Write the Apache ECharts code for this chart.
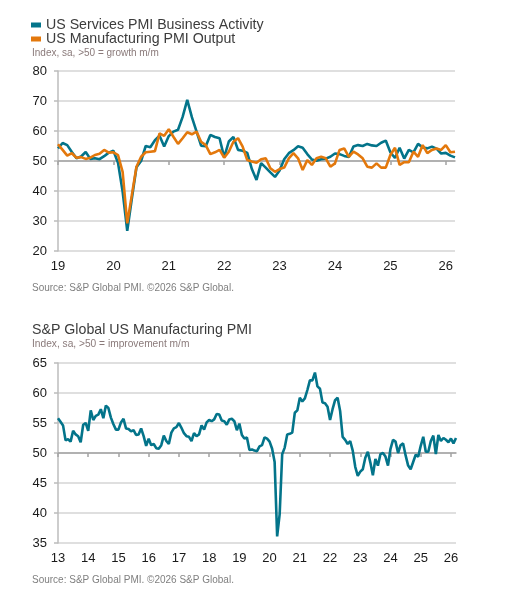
<!DOCTYPE html>
<html>
<head>
<meta charset="utf-8">
<script src="https://cdn.jsdelivr.net/npm/echarts@6/dist/echarts.min.js"></script>
<style>
html,body{margin:0;padding:0;background:#fff;}
#c{width:516px;height:600px;}
</style>
</head>
<body>
<div id="c"></div>
<script>
// ---------- DATA ----------
const topStartYear = 2019;   // Jan 2019 .. Mar 2026
const bottomStartYear = 2013; // Jan 2013 .. Mar 2026

const topYearLabels = ['19','20','21','22','23','24','25','26'];
const bottomYearLabels = ['13','14','15','16','17','18','19','20','21','22','23','24','25','26'];

const seriesNames = ['US Services PMI Business Activity', 'US Manufacturing PMI Output'];

const servicesActivity = [
  54.2, 56.0, 55.3, 53.0, 50.9, 51.5, 53.0, 50.7, 50.9, 50.6, 51.6, 52.8,
  53.4, 49.4, 39.8, 26.7, 37.5, 47.9, 50.0, 55.0, 54.6, 56.9, 58.4, 54.8,
  58.3, 59.8, 60.4, 64.7, 70.4, 64.6, 59.9, 55.1, 54.9, 58.7, 58.0, 57.6,
  51.2, 56.5, 58.0, 53.7, 53.4, 52.7, 47.3, 43.7, 49.3, 47.8, 46.2, 44.7,
  46.8, 50.6, 52.6, 53.6, 54.9, 54.4, 52.3, 50.5, 50.1, 50.6, 50.8, 51.4,
  52.5, 52.3, 51.7, 51.3, 54.8, 55.3, 55.0, 55.7, 55.2, 55.0, 56.1, 56.8,
  52.9, 51.0, 54.4, 50.8, 53.7, 52.9, 55.7, 54.5, 54.2, 54.8, 54.1, 52.5,
  52.7, 51.8, 51.2
];

const manufacturingOutput = [
  55.6, 53.7, 51.8, 52.6, 51.1, 51.3, 50.7, 51.1, 52.0, 52.4, 53.7, 52.8,
  52.9, 52.0, 46.4, 29.2, 38.7, 48.1, 51.4, 52.9, 53.1, 53.3, 59.2, 58.4,
  60.6, 58.1, 55.7, 57.6, 59.6, 58.9, 59.8, 56.4, 55.3, 52.3, 52.9, 53.7,
  51.1, 53.1, 56.4, 57.6, 54.8, 50.3, 49.8, 49.4, 50.6, 50.9, 47.6, 46.4,
  47.3, 47.8, 50.9, 52.6, 50.9, 47.0, 50.3, 48.7, 50.9, 51.4, 50.9, 48.1,
  49.2, 53.7, 54.2, 51.4, 53.1, 52.2, 50.9, 48.1, 47.8, 49.2, 47.8, 47.8,
  52.0, 54.4, 48.7, 49.6, 49.6, 53.1, 51.4, 55.3, 52.6, 53.7, 54.2, 53.7,
  55.3, 52.9, 53.1
];

const manufacturingPMI = [
  55.8, 55.2, 54.6, 52.1, 52.3, 51.9, 53.7, 53.1, 52.8, 51.8, 54.7, 55.0,
  53.7, 57.1, 55.5, 56.2, 56.4, 57.3, 55.8, 57.9, 57.5, 55.9, 54.8, 53.9,
  53.9, 55.1, 55.7, 54.1, 54.0, 53.6, 53.8, 53.0, 53.1, 54.1, 52.8, 51.2,
  52.4, 51.3, 51.5, 50.8, 50.7, 51.3, 52.9, 52.0, 51.5, 53.4, 54.1, 54.3,
  55.0, 54.2, 53.3, 52.8, 52.7, 52.0, 53.3, 52.8, 53.1, 54.6, 53.9, 55.1,
  55.5, 55.3, 55.6, 56.5, 56.4, 55.4, 55.3, 54.7, 55.6, 55.7, 55.3, 53.8,
  54.9, 53.0, 52.4, 52.6, 50.5, 50.6, 50.4, 50.3, 51.1, 51.3, 52.6, 52.4,
  51.9, 50.7, 48.5, 36.1, 39.8, 49.8, 50.9, 53.1, 53.2, 53.4, 56.7, 57.1,
  59.2, 58.6, 59.1, 60.5, 62.1, 62.1, 63.4, 61.1, 60.7, 58.4, 58.3, 57.7,
  55.5, 57.3, 58.8, 59.2, 57.0, 52.7, 52.2, 51.5, 52.0, 50.4, 47.7, 46.2,
  46.9, 47.3, 49.2, 50.2, 48.4, 46.3, 49.0, 47.9, 49.8, 50.0, 49.4, 47.9,
  50.7, 52.2, 51.9, 50.0, 51.3, 51.6, 49.6, 47.9, 47.3, 48.5, 49.7, 49.4,
  51.2, 52.7, 50.2, 50.2, 52.0, 52.9, 49.8, 53.0, 52.0, 52.5, 52.2, 51.8,
  52.4, 51.6, 52.5
];

const topTitleTexts = {
  sub: 'Index, sa, >50 = growth m/m',
  source: 'Source: S&P Global PMI. \u00A92026 S&P Global.'
};
const bottomTitleTexts = {
  title: 'S&P Global US Manufacturing PMI',
  sub: 'Index, sa, >50 = improvement m/m',
  source: 'Source: S&P Global PMI. \u00A92026 S&P Global.'
};

// ---------- helpers ----------
function monthCats(startYear, n) {
  const out = [];
  for (let i = 0; i < n; i++) {
    const y = startYear + Math.floor(i / 12);
    const m = (i % 12) + 1;
    out.push(y + '-' + (m < 10 ? '0' + m : m));
  }
  return out;
}
const topCats = monthCats(topStartYear, servicesActivity.length);
const bottomCats = monthCats(bottomStartYear, manufacturingPMI.length);

const FONT = '"Liberation Sans", Arial, sans-serif';
const TEAL = '#03748a';
const ORANGE = '#e3780c';
const GRID_COL = '#d4d4d4';
const AXIS50_COL = '#a3a3a3';

const yearInterval = function (idx) { return idx % 12 === 0; };

function labelAxis(gridIndex, cats, labels) {
  return {
    type: 'category', gridIndex: gridIndex, data: cats, boundaryGap: false, position: 'bottom',
    axisLine: { show: false, onZero: false },
    axisTick: { show: false },
    splitLine: { show: false },
    axisLabel: {
      interval: yearInterval,
      formatter: function (v, idx) { return idx % 12 === 0 ? labels[idx / 12] : ''; },
      color: '#1a1a1a', fontSize: 13, fontFamily: FONT, margin: 9
    }
  };
}
function lineAxis(gridIndex, cats) {
  return {
    type: 'category', gridIndex: gridIndex, data: cats, boundaryGap: false, position: 'bottom',
    axisLine: { show: true, onZero: true, lineStyle: { color: AXIS50_COL, width: 1.5 } },
    axisTick: { show: true, interval: yearInterval, length: 4, lineStyle: { color: AXIS50_COL, width: 1.5 } },
    axisLabel: { show: false },
    splitLine: { show: false }
  };
}
function valueAxis(gridIndex, min, max, step) {
  return {
    type: 'value', gridIndex: gridIndex, min: min, max: max, interval: step,
    axisLine: { show: true, lineStyle: { color: '#bcbcbc', width: 1.5 } },
    axisTick: { show: true, length: 4, lineStyle: { color: '#bcbcbc', width: 1.5 } },
    splitLine: { show: true, lineStyle: { color: GRID_COL, width: 1.5 } },
    axisLabel: { color: '#1a1a1a', fontSize: 13, fontFamily: FONT, margin: 11 }
  };
}
function helperAxis(gridIndex) {
  return { type: 'value', gridIndex: gridIndex, min: -1, max: 1, show: false, splitLine: { show: false } };
}
function txt(text, left, top, size, color) {
  return {
    text: text, left: left, top: top, padding: 0,
    textStyle: { fontSize: size, color: color, fontWeight: 'normal', fontFamily: FONT }
  };
}

const chart = echarts.init(document.getElementById('c'), null, { renderer: 'canvas' });

chart.setOption({
  backgroundColor: '#fff',
  animation: false,
  title: [
    txt(topTitleTexts.sub, 32, 48, 10, '#8a7a7a'),
    txt(topTitleTexts.source, 32, 283, 10, '#7f7f7f'),
    txt(bottomTitleTexts.title, 32, 323, 14.2, '#3c3c3c'),
    txt(bottomTitleTexts.sub, 32, 339.5, 10.2, '#8a7a7a'),
    txt(bottomTitleTexts.source, 32, 575, 10, '#7f7f7f')
  ],
  legend: {
    orient: 'vertical', left: 31, top: 18, padding: 0,
    itemWidth: 10, itemHeight: 5, itemGap: 0, icon: 'rect',
    textStyle: { fontSize: 14.2, color: '#3c3c3c', fontFamily: FONT, lineHeight: 13.5 },
    data: seriesNames
  },
  grid: [
    { left: 58, top: 71, width: 397, height: 180, outerBoundsMode: 'none', containLabel: false },
    { left: 58, top: 363, width: 398, height: 180, outerBoundsMode: 'none', containLabel: false }
  ],
  xAxis: [
    labelAxis(0, topCats, topYearLabels),
    lineAxis(0, topCats),
    labelAxis(1, bottomCats, bottomYearLabels),
    lineAxis(1, bottomCats)
  ],
  yAxis: [
    valueAxis(0, 20, 80, 10),
    helperAxis(0),
    valueAxis(1, 35, 65, 5),
    helperAxis(1)
  ],
  series: [
    {
      name: seriesNames[0], type: 'line', xAxisIndex: 0, yAxisIndex: 0,
      data: servicesActivity, showSymbol: false, symbol: 'none',
      lineStyle: { color: TEAL, width: 2.6 }, itemStyle: { color: TEAL }
    },
    {
      name: seriesNames[1], type: 'line', xAxisIndex: 0, yAxisIndex: 0,
      data: manufacturingOutput, showSymbol: false, symbol: 'none',
      lineStyle: { color: ORANGE, width: 2.6 }, itemStyle: { color: ORANGE }
    },
    {
      name: 'US Manufacturing PMI', type: 'line', xAxisIndex: 2, yAxisIndex: 2,
      data: manufacturingPMI, showSymbol: false, symbol: 'none',
      lineStyle: { color: TEAL, width: 2.6 }, itemStyle: { color: TEAL }
    }
  ]
});
</script>
</body>
</html>
